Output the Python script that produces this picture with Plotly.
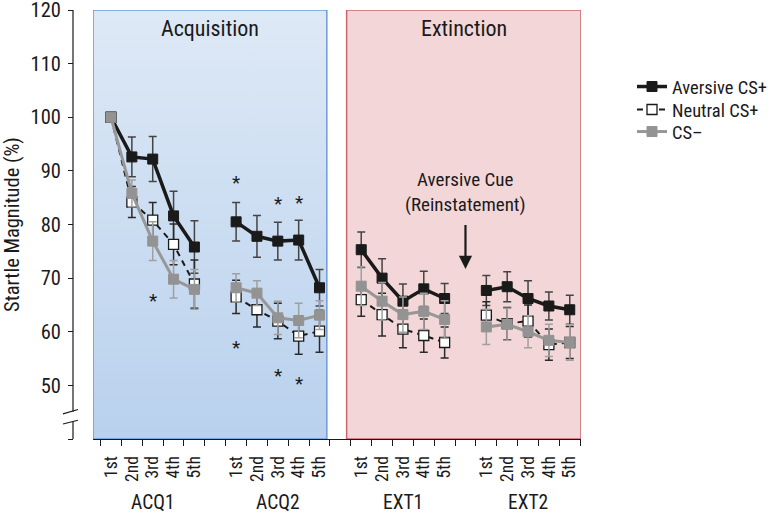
import plotly.graph_objects as go

FONT = "Liberation Sans Narrow, Arial Narrow, Roboto Condensed, Liberation Sans, sans-serif"

# ---- data ----
slots = [1, 2, 3, 4, 5, None, 7, 8, 9, 10, 11, None, 13, 14, 15, 16, 17, None, 19, 20, 21, 22, 23]
tick_labels = ["1st", "2nd", "3rd", "4th", "5th"]
groups = ["ACQ1", "ACQ2", "EXT1", "EXT2"]
group_centers = [3, 9, 15, 21]

aversive = [100, 92.6, 92.2, 81.6, 75.8, None,
            80.5, 77.8, 76.9, 77.1, 68.2, None,
            75.3, 70.0, 65.7, 68.0, 66.2, None,
            67.7, 68.4, 66.2, 64.8, 64.1]
aversive_err = [0, 3.7, 4.2, 4.6, 4.9, None,
                3.6, 3.9, 3.5, 3.7, 3.4, None,
                3.3, 3.6, 3.2, 3.3, 2.8, None,
                2.8, 2.8, 3.3, 2.6, 2.7]

neutral = [100, 84.2, 80.8, 76.3, 68.9, None,
           66.5, 64.1, 62.0, 59.2, 60.1, None,
           66.0, 63.2, 60.5, 59.3, 58.0, None,
           63.1, 61.5, 62.0, 57.6, 58.0]
neutral_err = [0, 2.9, 3.3, 3.8, 4.5, None,
               3.1, 3.2, 3.3, 3.4, 3.9, None,
               3.1, 4.0, 3.5, 3.1, 2.9, None,
               2.5, 3.0, 3.0, 2.9, 3.0]

cs_minus = [100, 85.8, 76.9, 69.8, 67.9, None,
            68.2, 67.2, 62.6, 62.1, 63.1, None,
            68.5, 65.7, 63.2, 63.8, 62.3, None,
            60.9, 61.4, 60.0, 58.4, 58.0]
cs_minus_err = [0, 2.5, 3.6, 3.5, 3.7, None,
                2.6, 2.3, 3.1, 3.2, 2.7, None,
                3.6, 3.5, 3.3, 3.4, 3.5, None,
                3.3, 3.0, 3.0, 3.0, 3.3]

# significance asterisks (slot, value)
star_x = [3, 7, 7, 9, 9, 10, 10]
star_y = [66.6, 88.6, 57.9, 84.7, 52.7, 85.0, 51.1]

# ---- layout constants ----
XR = [0.137, 23.54]
YR = [40, 120]
blue_x = [0.137, 11.35]
pink_x = [12.3, 23.54]

fig = go.Figure()

# panels (background)
fig.add_trace(go.Scatter(
    x=[blue_x[0], blue_x[1], blue_x[1], blue_x[0], blue_x[0]],
    y=[40, 40, 120, 120, 40], mode="lines", fill="toself",
    fillgradient=dict(type="vertical", start=40, stop=120,
                      colorscale=[[0, "#b9d1ed"], [1, "#dee9f6"]]),
    line=dict(color="#6b9bd5", width=1.5), showlegend=False, hoverinfo="skip"))
fig.add_trace(go.Scatter(
    x=[pink_x[0], pink_x[1], pink_x[1], pink_x[0], pink_x[0]],
    y=[40, 40, 120, 120, 40], mode="lines", fill="toself",
    fillcolor="#f3d6d7",
    line=dict(color="#c8676c", width=1.5), showlegend=False, hoverinfo="skip"))

fig.add_trace(go.Scatter(
    x=slots, y=aversive, name="Aversive CS+", mode="lines+markers",
    line=dict(color="#1a1a1a", width=3.5),
    marker=dict(symbol="square", size=10, color="#1a1a1a", line=dict(color="#1a1a1a", width=1)),
    error_y=dict(type="data", array=aversive_err, color="#444444", thickness=1.5, width=4),
    connectgaps=False, legend="legend"))
fig.add_trace(go.Scatter(
    x=slots, y=neutral, name="Neutral CS+", mode="lines+markers",
    line=dict(color="#1a1a1a", width=2, dash="6px,5px"),
    marker=dict(symbol="square", size=10, color="white", line=dict(color="#1a1a1a", width=1.3)),
    error_y=dict(type="data", array=neutral_err, color="#2a2a2a", thickness=1.5, width=4),
    connectgaps=False, legend="legend2"))
fig.add_trace(go.Scatter(
    x=slots, y=cs_minus, name="CS–", mode="lines+markers",
    line=dict(color="#979797", width=3),
    marker=dict(symbol="square", size=10, color="#939393", line=dict(color="#939393", width=1)),
    error_y=dict(type="data", array=cs_minus_err, color="#a0a0a0", thickness=1.5, width=4),
    connectgaps=False, legend="legend3"))

# label positions
centers = [s for s in slots if s is not None]
labels = tick_labels * 4

LEG_X = 1.1004
leg_common = dict(x=LEG_X, xanchor="left", yanchor="middle",
                  font=dict(size=18.5, family=FONT), bgcolor="rgba(0,0,0,0)", itemwidth=30)

fig.update_layout(
    width=772, height=514,
    margin=dict(l=73, r=191, t=10, b=75, autoexpand=False),
    paper_bgcolor="white", plot_bgcolor="white",
    font=dict(family=FONT, color="#1a1a1a", size=16),
    showlegend=True,
    legend=dict(y=0.8205, **leg_common),
    legend2=dict(y=0.7669, **leg_common),
    legend3=dict(y=0.7156, **leg_common),
    xaxis=dict(domain=[0.0394, 1], range=XR, showgrid=False, zeroline=False,
               showline=True, linecolor="#1a1a1a", linewidth=1.2,
               tickmode="array", tickvals=centers, ticktext=labels,
               ticks="", tickangle=-90, tickfont=dict(size=17.5, family=FONT),
               ticklabelstandoff=9,
               minor=dict(tickmode="linear", tick0=0.5, dtick=1, ticks="outside",
                          ticklen=6, tickcolor="#1a1a1a", tickwidth=1.2, showgrid=False)),
    yaxis=dict(range=YR, anchor="free", position=0, showgrid=False, zeroline=False,
               showline=False, tickmode="array",
               tickvals=[40, 50, 60, 70, 80, 90, 100, 110, 120],
               ticktext=["", "50", "60", "70", "80", "90", "100", "110", "120"],
               ticks="outside", ticklen=5, tickcolor="#1a1a1a", tickwidth=1.2,
               tickfont=dict(size=20.5, family=FONT), ticklabelstandoff=3,
               ticklabeloverflow="allow",
               title=dict(text="Startle Magnitude (%)", font=dict(size=20.5, family=FONT), standoff=8)),
)

# y axis line with break
fig.add_shape(type="line", xref="paper", yref="y", x0=0, x1=0, y0=120, y1=45.1,
              line=dict(color="#1a1a1a", width=1.2))
fig.add_shape(type="line", xref="paper", yref="y", x0=0, x1=0, y0=43.15, y1=40,
              line=dict(color="#1a1a1a", width=1.2))
fig.add_shape(type="line", xref="paper", yref="y", x0=-0.0197, x1=0.0098, y0=44.7, y1=45.5,
              line=dict(color="#1a1a1a", width=1.2))
fig.add_shape(type="line", xref="paper", yref="y", x0=-0.0197, x1=0.0098, y0=42.8, y1=43.5,
              line=dict(color="#1a1a1a", width=1.2))

# group labels
for g, c in zip(groups, group_centers):
    fig.add_annotation(x=c, y=-0.149, xref="x", yref="paper", text=g, showarrow=False,
                       font=dict(size=19.5, family=FONT), xanchor="center", yanchor="middle")

# panel titles
fig.add_annotation(x=(blue_x[0] + blue_x[1]) / 2, y=116.6, text="Acquisition", showarrow=False,
                   font=dict(size=22, family=FONT), yanchor="middle")
fig.add_annotation(x=(pink_x[0] + pink_x[1]) / 2, y=116.6, text="Extinction", showarrow=False,
                   font=dict(size=22, family=FONT), yanchor="middle")

# reinstatement annotation
fig.add_annotation(x=18, y=86.1, text="Aversive Cue<br>(Reinstatement)", showarrow=False,
                   font=dict(size=19, family=FONT), yanchor="middle")
fig.add_annotation(x=18, y=71.7, ax=18, ay=80.2, axref="x", ayref="y", text="",
                   showarrow=True, arrowhead=2, arrowsize=1.2, arrowwidth=2.2, arrowcolor="#1a1a1a")

# asterisks
for sx, sy in zip(star_x, star_y):
    fig.add_annotation(x=sx, y=sy, text="*", showarrow=False, yshift=-4.5,
                       font=dict(size=19, family=FONT), yanchor="middle")

# the page is photographed from its top-left corner, so drop the default body margin
fig.write_html("out.html", config={"displayModeBar": False},
               post_script="document.body.style.margin='0px';")
